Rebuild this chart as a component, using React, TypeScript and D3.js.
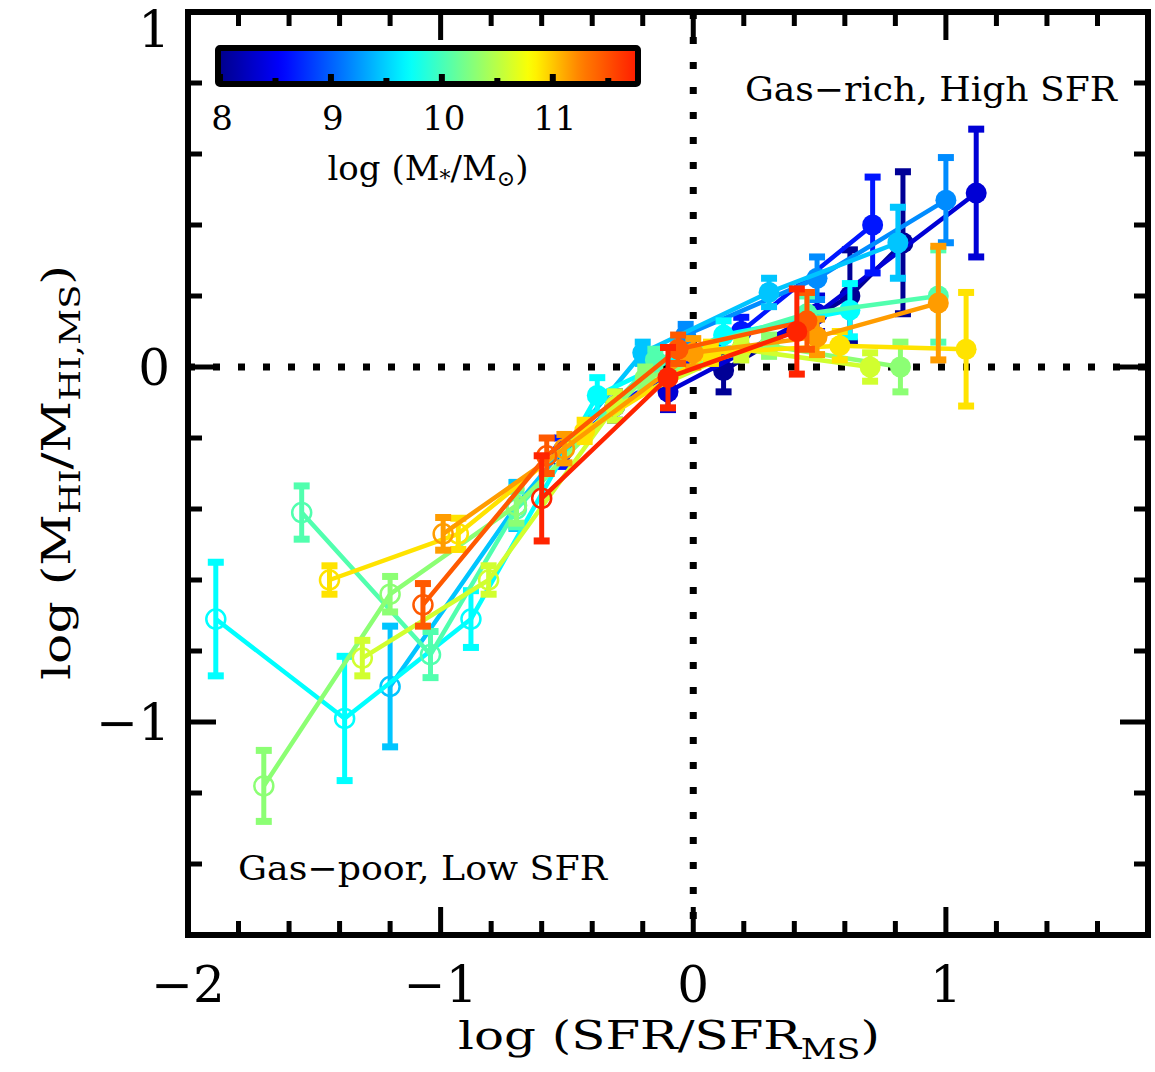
import React from "react";
import * as d3 from "d3";

const W = 1155;
const H = 1072;

// axes
const X_DOMAIN = [-2, 1.8];
const Y_DOMAIN = [-1.6, 1.0];
const X_TICK_LABELS = [-2, -1, 0, 1];
const Y_TICK_LABELS = [-1, 0, 1];
const CB_DOMAIN = [8, 11.75];
const CB_TICK_LABELS = [8, 9, 10, 11];
const CB_MINOR = [8.5, 9.5, 10.5, 11.5];

// jet-like colour table used for stellar mass
const CMAP_STOPS = [8.0, 8.55, 9.15, 9.7, 10.25, 10.8, 11.25, 11.75];
const CMAP_COLORS = ["#00008c", "#0000ff", "#0080ff", "#00ffff", "#80ff80", "#ffff00", "#ff8000", "#ff1e00"];

// mass bins (log M*/Msun) and their points: [log SFR/SFR_MS, log MHI/MHI,MS, error, open]
const BIN_MASSES = [8.05, 8.35, 8.65, 9.2, 9.45, 9.7, 10.05, 10.3, 10.6, 10.9, 11.15, 11.45, 11.72];
const BIN_A = [[0.12, -0.01, 0.06, 0], [0.62, 0.2, 0.13, 0], [0.83, 0.35, 0.2, 0]];
const BIN_B = [[-0.1, -0.07, 0.05, 0], [0.49, 0.15, 0.05, 0], [1.12, 0.49, 0.18, 0]];
const BIN_C = [[-0.52, -0.24, 0.04, 0], [-0.31, -0.11, 0.04, 0], [0.19, 0.1, 0.04, 0], [0.71, 0.4, 0.135, 0]];
const BIN_D = [[-0.03, 0.09, 0.03, 0], [0.49, 0.25, 0.06, 0], [1.0, 0.47, 0.12, 0]];
const BIN_E = [[-1.2, -0.9, 0.17, 1], [-0.7, -0.39, 0.065, 1], [-0.2, 0.04, 0.03, 0], [0.3, 0.21, 0.04, 0], [0.81, 0.35, 0.1, 0]];
const BIN_F = [[-1.89, -0.71, 0.16, 1], [-1.38, -0.99, 0.175, 1], [-0.88, -0.71, 0.08, 1], [-0.38, -0.08, 0.05, 0], [0.12, 0.09, 0.04, 0], [0.62, 0.16, 0.075, 0]];
const BIN_G = [[-1.55, -0.41, 0.075, 1], [-1.04, -0.81, 0.065, 1], [-0.7, -0.4, 0.05, 1], [-0.15, 0.02, 0.03, 0], [0.45, 0.15, 0.05, 0], [0.97, 0.2, 0.13, 0]];
const BIN_H = [[-1.7, -1.18, 0.1, 1], [-1.2, -0.64, 0.05, 1], [-0.7, -0.39, 0.05, 1], [-0.19, -0.03, 0.03, 0], [0.3, 0.06, 0.03, 0], [0.82, 0.0, 0.07, 0]];
const BIN_I = [[-1.31, -0.82, 0.05, 1], [-0.81, -0.6, 0.04, 1], [-0.31, -0.11, 0.04, 0], [0.19, 0.05, 0.03, 0], [0.7, 0.0, 0.04, 0]];
const BIN_J = [[-1.44, -0.6, 0.04, 1], [-0.93, -0.47, 0.044, 1], [-0.43, -0.18, 0.03, 0], [0.07, 0.04, 0.03, 0], [0.58, 0.06, 0.04, 0], [1.08, 0.05, 0.16, 0]];
const BIN_K = [[-0.99, -0.47, 0.046, 1], [-0.51, -0.23, 0.04, 1], [0.0, 0.04, 0.04, 0], [0.49, 0.085, 0.05, 0], [0.97, 0.18, 0.16, 0]];
const BIN_L = [[-1.07, -0.67, 0.06, 1], [-0.58, -0.25, 0.05, 1], [-0.06, 0.05, 0.04, 0], [0.45, 0.13, 0.08, 0]];
const BIN_M = [[-0.6, -0.37, 0.12, 1], [-0.1, -0.03, 0.085, 0], [0.41, 0.1, 0.12, 0]];
const BINS = [BIN_A, BIN_B, BIN_C, BIN_D, BIN_E, BIN_F, BIN_G, BIN_H, BIN_I, BIN_J, BIN_K, BIN_L, BIN_M];

const FONT = "'DejaVu Serif', 'Liberation Serif', serif";

export default function App() {
  const left = 188, right = 1148, top = 12, bottom = 935;
  const x = d3.scaleLinear().domain(X_DOMAIN).range([left, right]);
  const y = d3.scaleLinear().domain(Y_DOMAIN).range([bottom, top]);
  const color = d3.scaleLinear<string>().domain(CMAP_STOPS).range(CMAP_COLORS).interpolate(d3.interpolateRgb).clamp(true);
  const cb = d3.scaleLinear().domain(CB_DOMAIN).range([220, 636]);

  const xMinor = d3.range(-2, 1.8001, 0.2).map((v) => +v.toFixed(2));
  const yMinor = d3.range(-1.6, 1.0001, 0.2).map((v) => +v.toFixed(2));
  const isMajor = (v: number) => Math.abs(v - Math.round(v)) < 1e-6;

  const line = d3.line<number[]>().x((d) => x(d[0])).y((d) => y(d[1]));
  const gradStops = d3.range(0, 1.0001, 0.02).map((t) => {
    const v = CB_DOMAIN[0] + t * (CB_DOMAIN[1] - CB_DOMAIN[0]);
    return { t, c: color(v) };
  });

  const frameW = 6;
  const cap = 8;

  return (
    <svg width={W} height={H} style={{ display: "block", position: "absolute", left: 0, top: 0, background: "#fff" }}>
      <defs>
        <linearGradient id="cbgrad" x1="0" x2="1" y1="0" y2="0">
          {gradStops.map((s, i) => (
            <stop key={i} offset={s.t} stopColor={s.c} />
          ))}
        </linearGradient>
        <clipPath id="plotclip">
          <rect x={left} y={top} width={right - left} height={bottom - top} />
        </clipPath>
      </defs>
      <rect x={0} y={0} width={W} height={H} fill="#fff" />

      {/* reference dotted lines */}
      <line x1={x(0)} x2={x(0)} y1={top} y2={bottom} stroke="#000" strokeWidth={7} strokeDasharray="7 18" />
      <line x1={left} x2={right} y1={y(0)} y2={y(0)} stroke="#000" strokeWidth={7} strokeDasharray="7 18" />

      {/* data */}
      <g clipPath="url(#plotclip)">
        {BINS.map((pts, si) => {
          const c = color(BIN_MASSES[si]);
          return (
            <g key={si}>
              <path d={line(pts) || ""} fill="none" stroke={c} strokeWidth={4.5} strokeLinejoin="round" />
              {pts.map((p, i) => {
                const px = x(p[0]);
                const y1 = y(p[1] + p[2]);
                const y2 = y(p[1] - p[2]);
                return (
                  <g key={i}>
                    <line x1={px} x2={px} y1={y1} y2={y2} stroke={c} strokeWidth={5} />
                    <line x1={px - cap} x2={px + cap} y1={y1} y2={y1} stroke={c} strokeWidth={7} />
                    <line x1={px - cap} x2={px + cap} y1={y2} y2={y2} stroke={c} strokeWidth={7} />
                    {p[3] ? (
                      <circle cx={px} cy={y(p[1])} r={9.5} fill="none" stroke={c} strokeWidth={2.5} />
                    ) : (
                      <circle cx={px} cy={y(p[1])} r={10.5} fill={c} />
                    )}
                  </g>
                );
              })}
            </g>
          );
        })}
      </g>

      {/* ticks */}
      {xMinor.map((v, i) => {
        const L = isMajor(v) ? 28 : 14;
        return (
          <g key={"xt" + i}>
            <line x1={x(v)} x2={x(v)} y1={bottom} y2={bottom - L} stroke="#000" strokeWidth={5} />
            <line x1={x(v)} x2={x(v)} y1={top} y2={top + L} stroke="#000" strokeWidth={5} />
          </g>
        );
      })}
      {yMinor.map((v, i) => {
        const L = isMajor(v) ? 28 : 14;
        return (
          <g key={"yt" + i}>
            <line x1={left} x2={left + L} y1={y(v)} y2={y(v)} stroke="#000" strokeWidth={5} />
            <line x1={right} x2={right - L} y1={y(v)} y2={y(v)} stroke="#000" strokeWidth={5} />
          </g>
        );
      })}
      {/* frame */}
      <rect x={left} y={top} width={right - left} height={bottom - top} fill="none" stroke="#000" strokeWidth={frameW} />

      {/* tick labels */}
      {X_TICK_LABELS.map((v) => (
        <text key={"xl" + v} x={x(v)} y={1002} textAnchor="middle" fontFamily={FONT} fontSize={50} fill="#000">
          {v < 0 ? "\u2212" + Math.abs(v) : String(v)}
        </text>
      ))}
      {Y_TICK_LABELS.map((v) => (
        <text key={"yl" + v} x={170} y={Math.max(y(v), 29) + 18} textAnchor="end" fontFamily={FONT} fontSize={50} fill="#000">
          {v < 0 ? "\u2212" + Math.abs(v) : String(v)}
        </text>
      ))}

      {/* axis titles */}
      <text x={458} y={1049} textAnchor="start" fontFamily={FONT} fontSize={40} fill="#000" textLength={422} lengthAdjust="spacingAndGlyphs">
        log (SFR/SFR<tspan fontSize={28} dy={10}>MS</tspan><tspan dy={-10}>)</tspan>
      </text>
      <text transform="translate(70,680) rotate(-90)" textAnchor="start" fontFamily={FONT} fontSize={40} fill="#000" textLength={415} lengthAdjust="spacingAndGlyphs">
        log (M<tspan fontSize={28} dy={10}>HI</tspan><tspan dy={-10}>/M</tspan><tspan fontSize={28} dy={10}>HI,MS</tspan><tspan dy={-10}>)</tspan>
      </text>

      {/* annotations */}
      <text x={745} y={101} textAnchor="start" fontFamily={FONT} fontSize={34} fill="#000" textLength={372} lengthAdjust="spacingAndGlyphs">Gas−rich, High SFR</text>
      <text x={238} y={880} textAnchor="start" fontFamily={FONT} fontSize={34} fill="#000" textLength={369} lengthAdjust="spacingAndGlyphs">Gas−poor, Low SFR</text>

      {/* colour bar */}
      <rect x={cb.range()[0]} y={50} width={cb.range()[1] - cb.range()[0]} height={32} fill="url(#cbgrad)" />
      {CB_TICK_LABELS.map((v) => (
        <line key={"cbt" + v} x1={cb(v)} x2={cb(v)} y1={82} y2={74} stroke="#000" strokeWidth={6} />
      ))}
      {CB_MINOR.map((v) => (
        <line key={"cbm" + v} x1={cb(v)} x2={cb(v)} y1={82} y2={78} stroke="#000" strokeWidth={6} />
      ))}
      <rect x={cb.range()[0] - 2} y={48} width={cb.range()[1] - cb.range()[0] + 4} height={36} rx={2} fill="none" stroke="#000" strokeWidth={6} />
      {CB_TICK_LABELS.map((v) => (
        <text key={"cbl" + v} x={cb(v) + 2} y={130} textAnchor="middle" fontFamily={FONT} fontSize={34} fill="#000">
          {String(v)}
        </text>
      ))}
      <text x={428} y={180} textAnchor="middle" fontFamily={FONT} fontSize={34} fill="#000">
        log (M<tspan fontSize={22} dy={6}>*</tspan><tspan dy={-6}>/M</tspan><tspan fontSize={22} dy={6}>⊙</tspan><tspan dy={-6}>)</tspan>
      </text>
    </svg>
  );
}
